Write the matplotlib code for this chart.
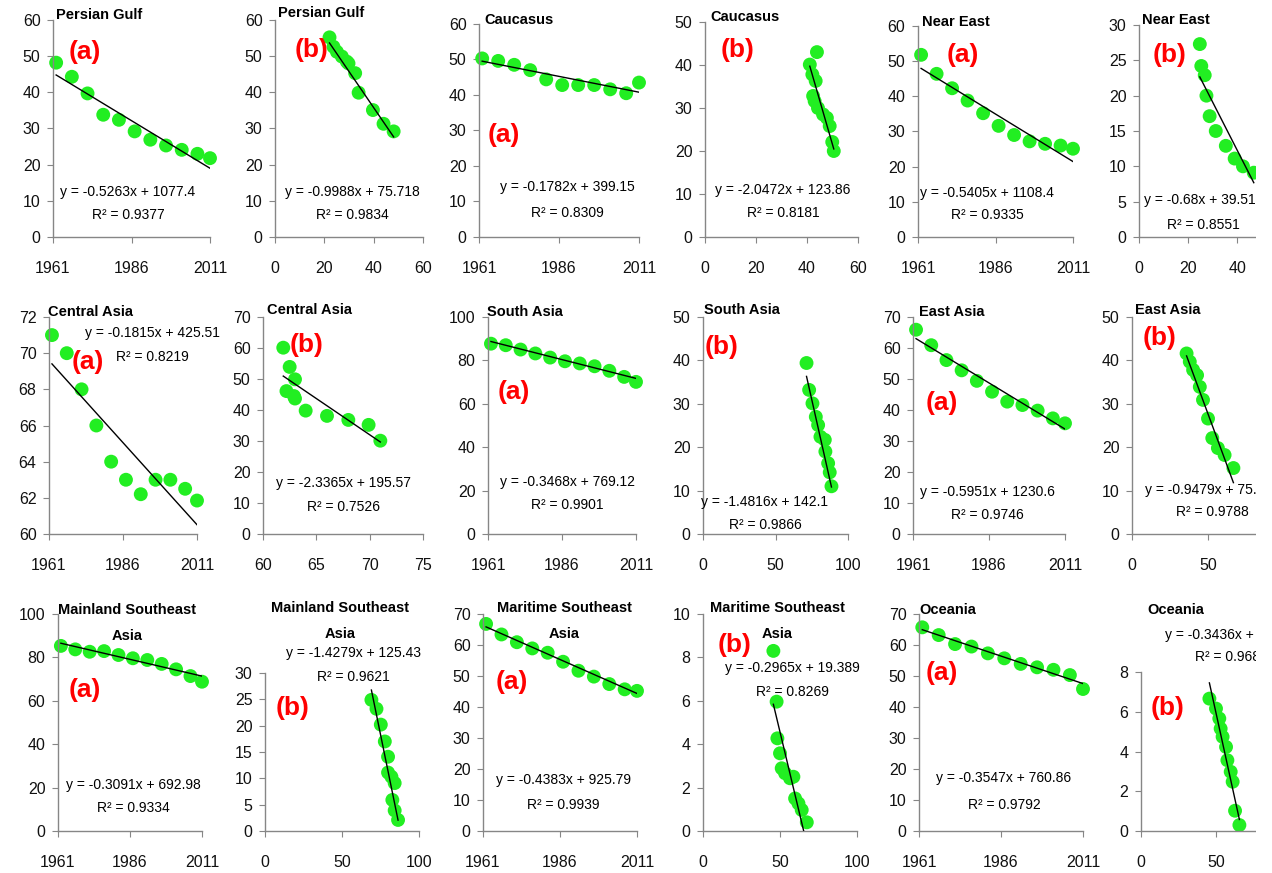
import matplotlib
matplotlib.use("Agg")
import matplotlib.pyplot as plt
from matplotlib.patches import Rectangle
import numpy as np

plt.rcParams['font.family'] = ['Liberation Sans Narrow', 'Liberation Sans', 'DejaVu Sans']

W, H = 1272, 873

years = [1962, 1967, 1972, 1977, 1982, 1987, 1992, 1997, 2002, 2007, 2011]

# (a) panels: value for each year
persian_gulf_a = [48.2, 44.3, 39.7, 33.8, 32.4, 29.2, 26.9, 25.3, 24.1, 23.0, 21.8]
caucasus_a = [50.3, 49.6, 48.5, 47.0, 44.4, 42.8, 42.8, 42.8, 41.6, 40.5, 43.5]
near_east_a = [51.8, 46.4, 42.3, 38.8, 35.2, 31.6, 29.0, 27.2, 26.5, 26.0, 25.1]
central_asia_a = [71.0, 70.0, 68.0, 66.0, 64.0, 63.0, 62.2, 63.0, 63.0, 62.5, 61.85]
south_asia_a = [87.7, 87.0, 85.0, 83.2, 81.3, 79.6, 78.6, 77.3, 75.2, 72.4, 70.1]
east_asia_a = [65.9, 60.9, 56.1, 52.8, 49.4, 45.9, 42.7, 41.6, 39.8, 37.3, 35.7]
mainland_sea_a = [85.3, 83.7, 82.6, 82.9, 81.1, 79.6, 78.8, 77.0, 74.5, 71.4, 68.8]
maritime_sea_a = [66.8, 63.4, 60.9, 58.9, 57.5, 54.6, 51.7, 49.8, 47.4, 45.7, 45.2]
oceania_a = [65.7, 63.2, 60.3, 59.5, 57.3, 55.7, 53.9, 52.8, 52.0, 50.3, 45.8]

# (b) panels: x and y values
persian_gulf_bx = [22.1, 23.7, 25.1, 27.1, 29.1, 29.8, 32.5, 33.9, 39.7, 44.0, 48.1]
persian_gulf_by = [55.2, 52.6, 51.2, 49.9, 48.5, 48.0, 45.3, 39.9, 35.1, 31.3, 29.2]
caucasus_bx = [41.1, 43.9, 42.1, 43.4, 42.4, 43.0, 44.3, 46.3, 47.8, 48.9, 49.9, 50.5]
caucasus_by = [40.1, 43.0, 37.8, 36.3, 32.8, 31.6, 30.0, 28.5, 27.7, 25.8, 22.1, 20.0]
near_east_bx = [24.8, 25.4, 26.8, 27.5, 28.8, 31.3, 35.4, 39.0, 42.4, 46.8]
near_east_by = [27.3, 24.2, 22.9, 20.0, 17.1, 15.0, 12.9, 11.1, 10.0, 9.1]
central_asia_bx = [61.9, 62.5, 62.2, 63.0, 62.9, 63.0, 64.0, 66.0, 68.0, 69.9, 71.0]
central_asia_by = [60.1, 53.9, 46.1, 49.9, 44.5, 43.7, 39.8, 38.1, 36.8, 35.2, 30.1]
south_asia_bx = [71.4, 73.2, 75.5, 77.8, 79.4, 81.0, 84.0, 84.4, 86.3, 87.4, 88.6]
south_asia_by = [39.4, 33.2, 30.1, 27.0, 25.1, 22.4, 21.7, 19.0, 16.3, 14.2, 11.0]
east_asia_bx = [35.9, 38.0, 40.2, 42.8, 44.6, 46.7, 50.0, 52.8, 56.5, 60.9, 66.7]
east_asia_by = [41.6, 39.7, 37.8, 36.6, 33.9, 30.9, 26.6, 22.1, 19.8, 18.2, 15.2]
mainland_sea_bx = [69.1, 72.4, 75.2, 77.8, 79.9, 79.9, 82.1, 84.2, 82.7, 84.2, 86.4]
mainland_sea_by = [24.9, 23.2, 20.2, 17.0, 14.1, 11.1, 10.3, 9.1, 5.9, 3.9, 2.1]
maritime_sea_bx = [45.7, 47.8, 48.3, 50.0, 51.1, 53.3, 56.5, 58.7, 59.8, 62.0, 64.1, 67.4]
maritime_sea_by = [8.3, 5.96, 4.27, 3.58, 2.89, 2.66, 2.43, 2.5, 1.5, 1.27, 0.97, 0.4]
oceania_bx = [45.6, 50.0, 52.2, 53.1, 54.4, 56.7, 57.6, 59.8, 61.1, 62.7, 65.6]
oceania_by = [6.66, 6.16, 5.66, 5.15, 4.74, 4.23, 3.56, 2.98, 2.48, 1.02, 0.3]

# trend lines as printed (slope, intercept, R2)
fits = {
    'pg_a': (-0.5263, 1077.4, 0.9377), 'pg_b': (-0.9988, 75.718, 0.9834),
    'ca_a': (-0.1782, 399.15, 0.8309), 'ca_b': (-2.0472, 123.86, 0.8181),
    'ne_a': (-0.5405, 1108.4, 0.9335), 'ne_b': (-0.68, 39.51, 0.8551),
    'cas_a': (-0.1815, 425.51, 0.8219), 'cas_b': (-2.3365, 195.57, 0.7526),
    'sa_a': (-0.3468, 769.12, 0.9901), 'sa_b': (-1.4816, 142.1, 0.9866),
    'ea_a': (-0.5951, 1230.6, 0.9746), 'ea_b': (-0.9479, 75.06, 0.9788),
    'ms_a': (-0.3091, 692.98, 0.9334), 'ms_b': (-1.4279, 125.43, 0.9621),
    'mt_a': (-0.4383, 925.79, 0.9939), 'mt_b': (-0.2965, 19.389, 0.8269),
    'oc_a': (-0.3547, 760.86, 0.9792), 'oc_b': (-0.3436, 23.12, 0.9683),
}

yr_ticks = [1961, 1986, 2011]
yr_lim = (1961, 2011)

# key, x, y, rect px (l, t, r, b), xlim, xticks, ylim, ystep,
# title (text, x, y, ha), letter (x, y), eq (x, y, ha), r2 (x, y, ha)
panels = [
    ('pg_a', years, persian_gulf_a, (53, 20, 210, 237), yr_lim, yr_ticks, (0, 60), 10,
     ('Persian Gulf', 56, 15, 'left'), ('(a)', 85, 52), (128, 192, 'center'), (128, 215, 'center')),
    ('pg_b', persian_gulf_bx, persian_gulf_by, (275, 20, 423, 237), (0, 60), [0, 20, 40, 60], (0, 60), 10,
     ('Persian Gulf', 278, 13, 'left'), ('(b)', 312, 50), (352, 192, 'center'), (352, 215, 'center')),
    ('ca_a', years, caucasus_a, (479, 24, 639, 237), yr_lim, yr_ticks, (0, 60), 10,
     ('Caucasus', 484, 20, 'left'), ('(a)', 504, 135), (567, 187, 'center'), (567, 213, 'center')),
    ('ca_b', caucasus_bx, caucasus_by, (705, 22, 858, 237), (0, 60), [0, 20, 40, 60], (0, 50), 10,
     ('Caucasus', 710, 17, 'left'), ('(b)', 738, 50), (783, 190, 'center'), (783, 213, 'center')),
    ('ne_a', years, near_east_a, (918, 26, 1073, 237), yr_lim, yr_ticks, (0, 60), 10,
     ('Near East', 922, 22, 'left'), ('(a)', 963, 55), (987, 193, 'center'), (987, 215, 'center')),
    ('ne_b', near_east_bx, near_east_by, (1139, 25, 1255, 237), (0, 47.3), [0, 20, 40], (0, 30), 5,
     ('Near East', 1142, 20, 'left'), ('(b)', 1170, 55), (1144, 200, 'left'), (1203, 225, 'center')),

    ('cas_a', years, central_asia_a, (49, 317, 197, 534), yr_lim, yr_ticks, (60, 72), 2,
     ('Central Asia', 48, 312, 'left'), ('(a)', 88, 362), (152, 333, 'center'), (152, 357, 'center')),
    ('cas_b', central_asia_bx, central_asia_by, (263, 317, 423, 534), (60, 75), [60, 65, 70, 75], (0, 70), 10,
     ('Central Asia', 267, 310, 'left'), ('(b)', 307, 345), (343, 483, 'center'), (343, 507, 'center')),
    ('sa_a', years, south_asia_a, (488, 317, 636, 534), yr_lim, yr_ticks, (0, 100), 20,
     ('South Asia', 487, 312, 'left'), ('(a)', 514, 392), (567, 482, 'center'), (567, 505, 'center')),
    ('sa_b', south_asia_bx, south_asia_by, (703, 317, 848, 534), (0, 100), [0, 50, 100], (0, 50), 10,
     ('South Asia', 704, 310, 'left'), ('(b)', 722, 347), (765, 502, 'center'), (765, 525, 'center')),
    ('ea_a', years, east_asia_a, (913, 317, 1065, 534), yr_lim, yr_ticks, (0, 70), 10,
     ('East Asia', 919, 312, 'left'), ('(a)', 942, 403), (987, 492, 'center'), (987, 515, 'center')),
    ('ea_b', east_asia_bx, east_asia_by, (1132, 317, 1255, 534), (0, 80.9), [0, 50], (0, 50), 10,
     ('East Asia', 1135, 310, 'left'), ('(b)', 1160, 338), (1145, 490, 'left'), (1212, 512, 'center')),

    ('ms_a', years, mainland_sea_a, (58, 614, 202, 831), yr_lim, yr_ticks, (0, 100), 20,
     ('Mainland Southeast\nAsia', 127, 623, 'center'), ('(a)', 85, 690), (133, 785, 'center'), (133, 808, 'center')),
    ('ms_b', mainland_sea_bx, mainland_sea_by, (265, 673, 419, 831), (0, 100), [0, 50, 100], (0, 30), 5,
     ('Mainland Southeast\nAsia', 340, 621, 'center'), ('(b)', 293, 708), (353, 653, 'center'), (353, 677, 'center')),
    ('mt_a', years, maritime_sea_a, (483, 614, 637, 831), yr_lim, yr_ticks, (0, 70), 10,
     ('Maritime Southeast\nAsia', 564, 621, 'center'), ('(a)', 512, 682), (563, 780, 'center'), (563, 805, 'center')),
    ('mt_b', maritime_sea_bx, maritime_sea_by, (703, 614, 857, 831), (0, 100), [0, 50, 100], (0, 10), 2,
     ('Maritime Southeast\nAsia', 777, 621, 'center'), ('(b)', 735, 645), (792, 668, 'center'), (792, 692, 'center')),
    ('oc_a', years, oceania_a, (919, 614, 1083, 831), yr_lim, yr_ticks, (0, 70), 10,
     ('Oceania', 919, 610, 'left'), ('(a)', 942, 673), (1004, 778, 'center'), (1004, 805, 'center')),
    ('oc_b', oceania_bx, oceania_by, (1141, 672, 1255, 831), (0, 76), [0, 50], (0, 8), 2,
     ('Oceania', 1147, 610, 'left'), ('(b)', 1168, 708), (1165, 635, 'left'), (1195, 657, 'left')),
]

fig = plt.figure(figsize=(W / 100, H / 100), dpi=100)

def fx(px):
    return px / W

def fy(py):
    return 1 - py / H

for key, xs, ys, rect, xlim, xticks, ylim, ystep, title, letter, eqpos, r2pos in panels:
    l, t, r, b = rect
    ax = fig.add_axes([fx(l), fy(b), (r - l) / W, (b - t) / H])
    ax.set_facecolor('none')
    ax.scatter(xs, ys, s=100, color='#22ee22', edgecolors='none', zorder=2, clip_on=False)
    slope, icpt, r2 = fits[key]
    lx = np.array([min(xs), max(xs)])
    ax.plot(lx, slope * lx + icpt, color='black', lw=1, zorder=3)
    ax.set_xlim(*xlim)
    ax.set_ylim(*ylim)
    ax.set_xticks(xticks)
    ax.set_yticks(np.arange(ylim[0], ylim[1] + ystep / 2, ystep))
    for s in ['top', 'right']:
        ax.spines[s].set_visible(False)
    for s in ['left', 'bottom']:
        ax.spines[s].set_color('#868686')
        ax.spines[s].set_linewidth(1)
    ax.tick_params(direction='out', length=4, color='#868686', labelsize=11.5,
                   labelcolor='#111111')
    ax.tick_params(axis='x', pad=13)
    ax.tick_params(axis='y', pad=5)

    # long titles wrap onto two lines, one text per line
    lines = title[0].split('\n')
    y0 = title[2] - 13.5 * (len(lines) - 1)
    for i, line in enumerate(lines):
        fig.text(fx(title[1]), fy(y0 + 27 * i), line, ha=title[3], va='center',
                 fontsize=10.5, fontweight='bold')
    fig.text(fx(letter[1]), fy(letter[2]), letter[0], ha='center', va='center',
             fontsize=19, fontweight='bold', color='#ff0000')
    sign = '+' if icpt >= 0 else '-'
    eq = 'y = %sx %s %s' % (('%.4f' % slope).rstrip('0') if key == 'ne_b' else '%.4f' % slope,
                            sign, '%g' % abs(icpt))
    fig.text(fx(eqpos[0]), fy(eqpos[1]), eq, ha=eqpos[2], va='center', fontsize=10)
    fig.text(fx(r2pos[0]), fy(r2pos[1]), 'R\u00b2 = %.4f' % r2, ha=r2pos[2], va='center',
             fontsize=10)

# the source image is cut off at the right side
fig.add_artist(Rectangle((fx(1256), 0), 1 - fx(1256), 1, transform=fig.transFigure,
                         facecolor='white', edgecolor='none', zorder=10))

fig.savefig('out.png', dpi=100)
